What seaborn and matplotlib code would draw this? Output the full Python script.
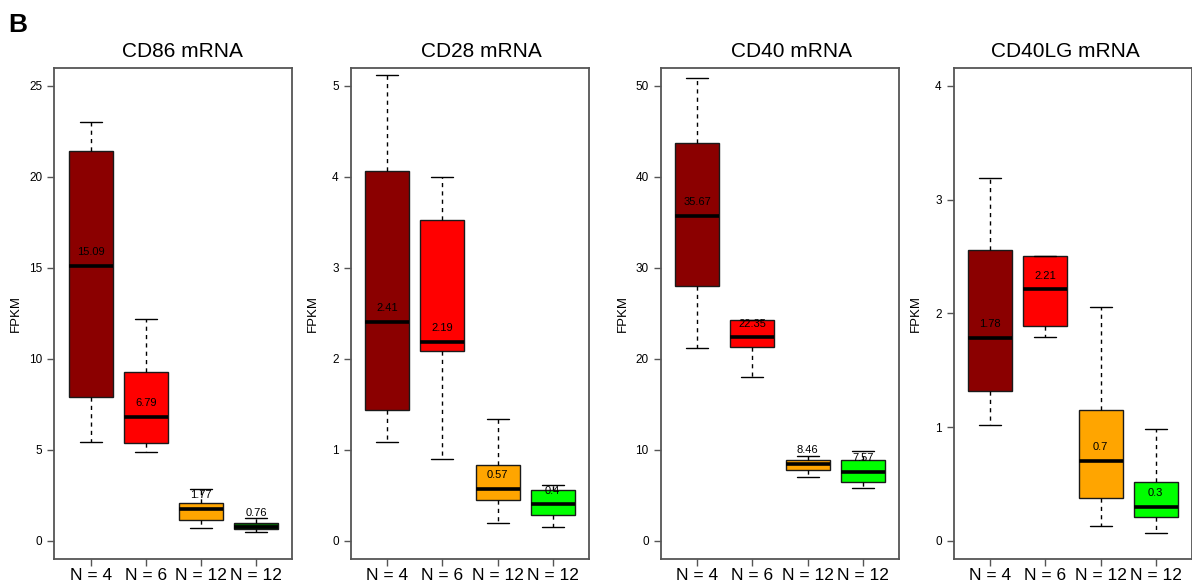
import numpy as np
import pandas as pd
import matplotlib
matplotlib.use("Agg")
import matplotlib.pyplot as plt
import seaborn as sns

sns.set_style("ticks")
plt.rcParams['font.family'] = ['Liberation Sans', 'DejaVu Sans']
plt.rcParams['text.color'] = 'black'
plt.rcParams['axes.labelcolor'] = 'black'
plt.rcParams['xtick.color'] = 'black'
plt.rcParams['ytick.color'] = 'black'

# ---------------- data (five-number summaries) ----------------
groups = ["N = 4", "N = 6", "N = 12", "N = 12 "]
tick_labels = ["N = 4", "N = 6", "N = 12", "N = 12"]
titles = ["CD86 mRNA", "CD28 mRNA", "CD40 mRNA", "CD40LG mRNA"]
y_max = [25, 5, 50, 4]

cd86_low = [5.43, 4.90, 0.69, 0.51]
cd86_q1 = [7.90, 5.35, 1.16, 0.65]
cd86_med = [15.09, 6.79, 1.77, 0.76]
cd86_q3 = [21.42, 9.29, 2.10, 0.96]
cd86_high = [23.04, 12.19, 2.82, 1.23]

cd28_low = [1.09, 0.90, 0.196, 0.15]
cd28_q1 = [1.44, 2.09, 0.45, 0.286]
cd28_med = [2.41, 2.19, 0.57, 0.40]
cd28_q3 = [4.06, 3.53, 0.83, 0.56]
cd28_high = [5.12, 4.00, 1.34, 0.61]

cd40_low = [21.24, 18.05, 6.96, 5.82]
cd40_q1 = [28.06, 21.28, 7.73, 6.48]
cd40_med = [35.67, 22.35, 8.46, 7.57]
cd40_q3 = [43.67, 24.23, 8.87, 8.87]
cd40_high = [50.86, 24.23, 9.30, 9.92]

cd40lg_low = [1.02, 1.79, 0.134, 0.07]
cd40lg_q1 = [1.32, 1.89, 0.375, 0.21]
cd40lg_med = [1.78, 2.21, 0.70, 0.30]
cd40lg_q3 = [2.556, 2.50, 1.15, 0.52]
cd40lg_high = [3.19, 2.50, 2.06, 0.98]

colors_cd86 = ["#8B0000", "#FF0000", "#FFA500", "#006400"]
colors_rest = ["#8B0000", "#FF0000", "#FFA500", "#00FF00"]

panels = [
    (cd86_low, cd86_q1, cd86_med, cd86_q3, cd86_high, colors_cd86),
    (cd28_low, cd28_q1, cd28_med, cd28_q3, cd28_high, colors_rest),
    (cd40_low, cd40_q1, cd40_med, cd40_q3, cd40_high, colors_rest),
    (cd40lg_low, cd40lg_q1, cd40lg_med, cd40lg_q3, cd40lg_high, colors_rest),
]

# ---------------- figure ----------------
W, H = 1192, 583
fig = plt.figure(figsize=(W / 100, H / 100), dpi=100)
lefts_px = [54.3, 351.0, 661.0, 954.0]
title_x = [0.537, 0.548, 0.549, 0.47]
ax_w = 238.0 / W
ax_b = 24.0 / H
ax_h = 491.3 / H

frame_col = "#555555"

for k, (lo, q1, med, q3, hi, cols) in enumerate(panels):
    ax = fig.add_axes([lefts_px[k] / W, ax_b, ax_w, ax_h])
    rows = []
    for g, a, b, c, d, e in zip(groups, lo, q1, med, q3, hi):
        for v in (a, b, c, d, e):
            rows.append({"group": g, "FPKM": v})
    df = pd.DataFrame(rows)
    sns.boxplot(
        data=df, x="group", y="FPKM", hue="group", order=groups, hue_order=groups,
        palette=dict(zip(groups, cols)), saturation=1, legend=False, whis=(0, 100),
        width=0.8, linecolor="#1a1a1a", linewidth=1.0, showfliers=False, ax=ax,
        whiskerprops=dict(linestyle=(0, (3, 3)), color="black", linewidth=1.0),
        capprops=dict(color="black", linewidth=1.0),
        medianprops=dict(color="black", linewidth=2.6, solid_capstyle="butt"),
    )
    for i, m in enumerate(med):
        ax.annotate(f"{m:g}", xy=(i, m), xytext=(0, 10), textcoords="offset points",
                    ha="center", va="center", fontsize=8, color="black")
    top = y_max[k]
    ax.set_ylim(-0.04 * top, 1.04 * top)
    ax.set_xlim(-0.66, 3.66)
    ax.set_xticks(range(4))
    ax.set_xticklabels(tick_labels, fontsize=12.5)
    if top == 50:
        ax.set_yticks(np.arange(0, 51, 10))
    elif top == 4:
        ax.set_yticks(np.arange(0, 5))
    else:
        ax.set_yticks(np.linspace(0, top, 6))
    ax.set_yticklabels([f"{t:g}" for t in ax.get_yticks()], fontsize=8.5)
    ax.set_xlabel("")
    ax.set_ylabel("FPKM", fontsize=9.5)
    ax.yaxis.set_label_coords(-0.136, 0.5)
    ax.set_title(titles[k], fontsize=15, x=title_x[k], pad=8)
    for sp in ax.spines.values():
        sp.set_visible(True)
        sp.set_color(frame_col)
        sp.set_linewidth(1.3)
    ax.tick_params(axis="both", direction="out", length=4.8, width=1.0, color=frame_col)
    ax.tick_params(axis="y", pad=4)
    ax.tick_params(axis="x", pad=2)

fig.text(8 / W, 1 - 32 / H, "B", fontsize=19, fontweight="bold", ha="left", va="baseline")

fig.savefig("out.png", dpi=100)
